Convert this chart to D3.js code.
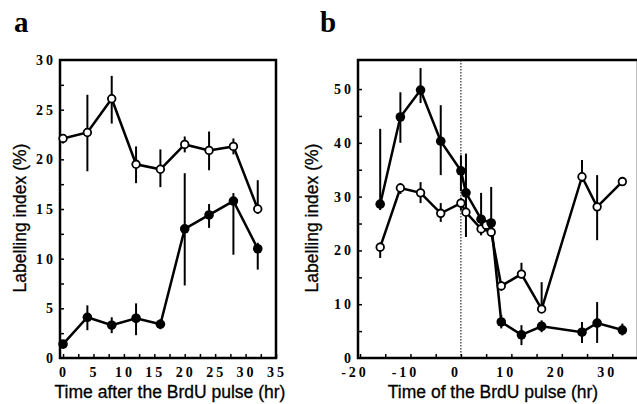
<!DOCTYPE html>
<html>
<head>
<meta charset="utf-8">
<script src="https://cdn.jsdelivr.net/npm/d3@7"></script>
<style>
  body { margin: 0; background: #fff; }
  svg { display: block; }
  .tick-lbl { font-family: "Liberation Serif", serif; font-weight: bold; font-size: 14px; letter-spacing: 3px; }
  .ax-lbl { font-family: "Liberation Sans", Arial, sans-serif; font-size: 17.5px; stroke: #000; stroke-width: 0.3px; }
  .panel { font-family: "Liberation Serif", serif; font-weight: bold; font-size: 29px; }
</style>
</head>
<body>
<div id="chart"></div>
<script>
// panel a
const timesA = [0, 4, 8, 12, 16, 20, 24, 28, 32];
const openA = [22.1, 22.7, 26.1, 19.5, 19.0, 21.5, 20.9, 21.3, 15.0];
const openALo = [21.6, 18.8, 23.6, 17.6, 17.2, 20.7, 18.9, 20.5, 14.5];
const openAHi = [22.5, 26.5, 28.4, 21.3, 21.0, 22.3, 22.8, 22.1, 17.9];
const filledA = [1.4, 4.1, 3.3, 4.0, 3.4, 13.0, 14.4, 15.8, 11.0];
const filledALo = [1.1, 2.8, 2.5, 2.3, 2.9, 7.3, 13.1, 10.4, 8.9];
const filledAHi = [1.7, 5.3, 4.1, 5.5, 3.9, 18.6, 15.5, 16.6, 11.6];
const xTicksA = [0, 5, 10, 15, 20, 25, 30, 35];
const yTicksA = [0, 5, 10, 15, 20, 25, 30];

// panel b
const timesBFilled = [-16, -12, -8, -4, 0, 1, 4, 6, 8, 12, 16, 24, 27, 32];
const filledB = [28.6, 44.8, 49.8, 40.3, 34.8, 30.7, 25.8, 25.1, 6.7, 4.3, 5.9, 4.8, 6.5, 5.2];
const filledBLo = [27.5, 40.0, 47.4, 34.0, 31.0, 27.0, 23.0, 23.0, 5.5, 2.4, 4.8, 2.8, 2.8, 4.2];
const filledBHi = [42.6, 49.4, 53.9, 47.0, 37.7, 38.0, 30.7, 31.8, 8.0, 6.1, 7.0, 6.7, 10.4, 6.4];
const timesBOpen = [-16, -12, -8, -4, 0, 1, 4, 5, 6, 8, 12, 16, 24, 27, 32];
const openB = [20.6, 31.6, 30.7, 26.9, 28.8, 27.1, 24.0, 24.7, 23.4, 13.4, 15.6, 9.1, 33.7, 28.1, 32.8];
const openBLo = [18.6, 30.5, 28.8, 25.3, 27.5, 22.5, 22.8, 23.5, 22.5, 12.5, 14.8, 8.5, 32.7, 21.9, 32.3];
const openBHi = [21.5, 32.5, 32.7, 28.8, 29.8, 28.0, 25.0, 25.5, 24.2, 14.3, 17.7, 14.1, 36.8, 34.0, 33.3];
const xTicksB = [-20, -10, 0, 10, 20, 30];
const yTicksB = [0, 10, 20, 30, 40, 50];

const width = 637, height = 404;
let svg = d3.select("#chart").append("svg")
  .attr("width", width)
  .attr("height", height);

function panel(opt) {
  let x = d3.scaleLinear().domain(opt.xDomain).range([opt.left, opt.right]);
  let y = d3.scaleLinear().domain(opt.yDomain).range([opt.bottom, opt.top]);
  let g = svg.append("g");

  // frame
  g.append("rect")
    .attr("x", opt.left).attr("y", opt.top)
    .attr("width", opt.right - opt.left).attr("height", opt.bottom - opt.top)
    .attr("fill", "none").attr("stroke", "#000").attr("stroke-width", 2.5);

  // inward ticks, left and bottom
  let yAxis = d3.axisRight(y).tickValues(opt.yMinor).tickSize(4).tickFormat("");
  g.append("g").attr("transform", `translate(${opt.left},0)`).call(yAxis)
    .call(s => s.select(".domain").remove())
    .selectAll("line").attr("stroke-width", 1.5);
  let xAxis = d3.axisTop(x).tickValues(opt.xMinor).tickSize(4).tickFormat("");
  g.append("g").attr("transform", `translate(0,${opt.bottom})`).call(xAxis)
    .call(s => s.select(".domain").remove())
    .selectAll("line").attr("stroke-width", 1.5);

  // tick labels
  g.selectAll(".ylab").data(opt.yTicks).enter().append("text")
    .attr("class", "tick-lbl")
    .attr("x", opt.left - 4).attr("y", d => y(d) + 5)
    .attr("text-anchor", "end")
    .text(d => d);
  g.selectAll(".xlab").data(opt.xTicks).enter().append("text")
    .attr("class", "tick-lbl")
    .attr("x", d => x(d) - 3 + (opt.xShift || 0)).attr("y", opt.bottom + 19)
    .attr("text-anchor", "middle")
    .text(d => d);

  // axis labels
  g.append("text").attr("class", "ax-lbl")
    .attr("x", opt.xLabelX).attr("y", 398)
    .attr("text-anchor", "middle")
    .text(opt.xLabel);
  g.append("text").attr("class", "ax-lbl")
    .attr("transform", `translate(${opt.yLabelX},${opt.yLabelY}) rotate(-90)`)
    .attr("text-anchor", "middle")
    .text("Labelling index (%)");

  g.append("text").attr("class", "panel")
    .attr("x", opt.letterX).attr("y", 32)
    .text(opt.letter);

  if (opt.zeroLine) {
    g.append("line")
      .attr("x1", x(0)).attr("x2", x(0))
      .attr("y1", opt.top).attr("y2", opt.bottom)
      .attr("stroke", "#000").attr("stroke-width", 1)
      .attr("stroke-dasharray", "1.5,1.5");
  }

  let line = d3.line().x(d => x(d.t)).y(d => y(d.v));

  opt.series.forEach(s => {
    let pts = s.t.map((t, i) => ({ t: t, v: s.v[i], lo: s.lo[i], hi: s.hi[i] }));
    g.append("path").datum(pts)
      .attr("d", line)
      .attr("fill", "none").attr("stroke", "#000").attr("stroke-width", 2.5);
    g.selectAll(null).data(pts).enter().append("line")
      .attr("x1", d => x(d.t)).attr("x2", d => x(d.t))
      .attr("y1", d => y(d.lo)).attr("y2", d => y(d.hi))
      .attr("stroke", "#000").attr("stroke-width", 2);
    s.pts = pts;
  });
  opt.series.forEach(s => {
    g.selectAll(null).data(s.pts).enter().append("circle")
      .attr("cx", d => x(d.t)).attr("cy", d => y(d.v))
      .attr("r", s.open ? 3.8 : 4.8)
      .attr("fill", s.open ? "#fff" : "#000")
      .attr("stroke", "#000").attr("stroke-width", s.open ? 1.8 : 0);
  });
}

panel({
  letter: "a", letterX: 14,
  left: 60, right: 276, top: 60, bottom: 358,
  xDomain: [-0.5, 35], yDomain: [0, 30],
  xTicks: xTicksA, yTicks: yTicksA,
  xMinor: d3.range(0, 35.1, 2.5), yMinor: d3.range(2.5, 30, 2.5),
  xShift: 4,
  xLabel: "Time after the BrdU pulse (hr)", xLabelX: 170,
  yLabelX: 26, yLabelY: 218,
  series: [
    { t: timesA, v: openA, lo: openALo, hi: openAHi, open: true },
    { t: timesA, v: filledA, lo: filledALo, hi: filledAHi, open: false }
  ]
});

panel({
  letter: "b", letterX: 320,
  left: 358, right: 638, top: 60, bottom: 358,
  xDomain: [-20.4, 35.1], yDomain: [0, 55.4],
  xTicks: xTicksB, yTicks: yTicksB,
  xMinor: d3.range(-20, 35, 5), yMinor: d3.range(5, 55, 5),
  xShift: -2,
  zeroLine: true,
  xLabel: "Time of the BrdU pulse (hr)", xLabelX: 493,
  yLabelX: 318, yLabelY: 218,
  series: [
    { t: timesBOpen, v: openB, lo: openBLo, hi: openBHi, open: true },
    { t: timesBFilled, v: filledB, lo: filledBLo, hi: filledBHi, open: false }
  ]
});
</script>
</body>
</html>
